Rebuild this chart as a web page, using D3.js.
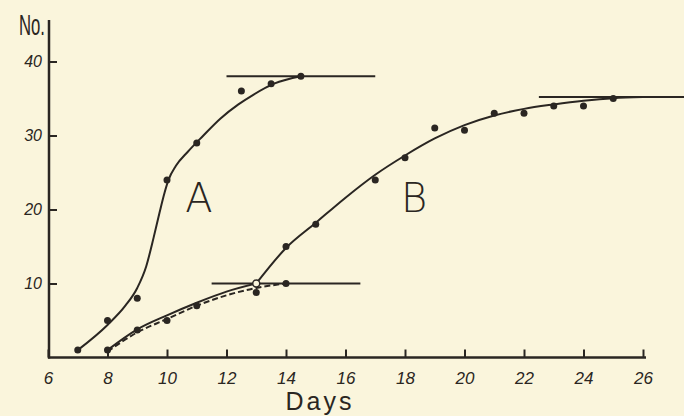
<!DOCTYPE html>
<html>
<head>
<meta charset="utf-8">
<script src="https://cdn.jsdelivr.net/npm/d3@7"></script>
<style>
  body { margin: 0; background: #faf5dc; }
  svg { display: block; }
  .tick text { font-family: "Liberation Sans", sans-serif; font-style: italic; fill: #2a2622; }
</style>
</head>
<body>
<div id="chart"></div>
<script>
// axis ticks
var xTicks = [6, 8, 10, 12, 14, 16, 18, 20, 22, 24, 26];
var yTicks = [10, 20, 30, 40];

// observed points, culture A
var aDays = [7, 8, 9, 10, 11, 12.5, 13.5, 14.5];
var aCount = [1, 5, 8, 24, 29, 36, 37, 38];

// observed points, culture B
var bDays = [8, 9, 10, 11, 13, 14, 14, 15, 17, 18, 19, 20, 21, 22, 23, 24, 25];
var bCount = [1, 3.7, 5, 7, 8.8, 10, 15, 18, 24, 27, 31, 30.7, 33, 33, 34, 34, 35];

// open circle where the two B curves meet
var jDays = [13];
var jCount = [10];

// hand drawn curve through A
var aFitX = [7, 8, 8.6, 9, 9.3, 9.55, 9.75, 9.92, 10.05, 10.3, 10.7, 11.2, 11.8, 12.4, 12.9, 13.6, 14.5];
var aFitY = [1, 4.4, 7, 9.4, 12.3, 16.2, 19.6, 22.3, 24, 25.9, 27.8, 29.9, 32.3, 34.2, 35.5, 37, 38];

// B, early solid curve
var bLowX = [8, 9, 10, 11, 12, 13];
var bLowY = [1, 3.8, 5.7, 7.4, 8.9, 10];

// B, early dashed curve
var bDashX = [8, 9, 10, 11, 12, 13, 14];
var bDashY = [0.8, 3.4, 5.2, 7, 8.4, 9.4, 10];

// B, later curve
var bUpX = [13, 14, 15, 16, 17, 18, 19, 20, 21, 22, 23, 24, 25, 26];
var bUpY = [10, 14.8, 18.2, 21.6, 24.7, 27.3, 29.6, 31.4, 32.7, 33.6, 34.2, 34.7, 35.05, 35.2];

// horizontal plateau lines
var flatFrom = [12, 11.5, 22.5];
var flatTo = [17, 16.5, 27.4];
var flatAt = [38, 10, 35.2];

var width = 684;
var height = 416;
var ink = "#2a2622";

var svg = d3
  .select("#chart")
  .append("svg")
  .attr("width", width)
  .attr("height", height);

//scales
var xScale = d3.scaleLinear().domain([6, 26]).range([48, 643]);
var yScale = d3.scaleLinear().domain([0, 40]).range([357.5, 61.5]);

//x axis, ticks pointing up into the plot
var xAxis = d3.axisBottom(xScale)
  .tickValues(xTicks)
  .tickSizeInner(-8)
  .tickSizeOuter(0)
  .tickPadding(18);

svg.append("g")
  .attr("class", "xAxis")
  .attr("transform", "translate(0,357.5)")
  .call(xAxis)
  .call(function(g) {
    g.select(".domain").attr("stroke", ink).attr("stroke-width", 2.5).attr("d", "M48,0H646");
    g.selectAll(".tick line").attr("stroke", ink).attr("stroke-width", 2);
    g.selectAll(".tick text").attr("font-size", 17).attr("dy", "0.5em");
  });

//y axis, ticks pointing right
var yAxis = d3.axisLeft(yScale)
  .tickValues(yTicks)
  .tickSizeInner(-8)
  .tickSizeOuter(0)
  .tickPadding(7);

svg.append("g")
  .attr("class", "yAxis")
  .attr("transform", "translate(49,0)")
  .call(yAxis)
  .call(function(g) {
    g.select(".domain").attr("stroke", ink).attr("stroke-width", 2.5).attr("d", "M0,20V358.5");
    g.selectAll(".tick line").attr("stroke", ink).attr("stroke-width", 2);
    g.selectAll(".tick text").attr("font-size", 16);
  });

//axis titles
svg.append("text")
  .attr("x", 19)
  .attr("y", 35)
  .attr("font-family", "Liberation Sans Narrow, Liberation Sans, sans-serif")
  .attr("font-size", 29)
  .attr("textLength", 26)
  .attr("lengthAdjust", "spacingAndGlyphs")
  .attr("fill", ink)
  .text("No.");

svg.append("text")
  .attr("x", 320)
  .attr("y", 410)
  .attr("text-anchor", "middle")
  .attr("font-family", "Liberation Sans, sans-serif")
  .attr("font-size", 25)
  .attr("letter-spacing", 3)
  .attr("fill", ink)
  .text("Days");

//curve labels
svg.append("text")
  .attr("x", 199)
  .attr("y", 212)
  .attr("text-anchor", "middle")
  .attr("font-family", "DejaVu Sans, sans-serif")
  .attr("font-weight", 200)
  .attr("font-size", 40)
  .attr("fill", ink)
  .text("A");

svg.append("text")
  .attr("x", 414)
  .attr("y", 212)
  .attr("text-anchor", "middle")
  .attr("font-family", "DejaVu Sans, sans-serif")
  .attr("font-weight", 200)
  .attr("font-size", 40)
  .attr("fill", ink)
  .text("B");

//line generator for the drawn curves
var line = d3.line()
  .x(function(d) { return xScale(d[0]); })
  .y(function(d) { return yScale(d[1]); })
  .curve(d3.curveMonotoneX);

function zip(xs, ys) {
  return xs.map(function(x, i) { return [x, ys[i]]; });
}

//plateaus
flatAt.forEach(function(v, i) {
  svg.append("line")
    .attr("x1", xScale(flatFrom[i]))
    .attr("x2", xScale(flatTo[i]))
    .attr("y1", yScale(v))
    .attr("y2", yScale(v))
    .attr("stroke", ink)
    .attr("stroke-width", 2);
});

svg.append("path")
  .datum(zip(aFitX, aFitY))
  .attr("d", line)
  .attr("fill", "none")
  .attr("stroke", ink)
  .attr("stroke-width", 2);

svg.append("path")
  .datum(zip(bLowX, bLowY))
  .attr("d", line)
  .attr("fill", "none")
  .attr("stroke", ink)
  .attr("stroke-width", 2);

svg.append("path")
  .datum(zip(bDashX, bDashY))
  .attr("d", line)
  .attr("fill", "none")
  .attr("stroke", ink)
  .attr("stroke-width", 2)
  .attr("stroke-dasharray", "6,3");

svg.append("path")
  .datum(zip(bUpX, bUpY))
  .attr("d", line)
  .attr("fill", "none")
  .attr("stroke", ink)
  .attr("stroke-width", 2);

//dots
svg.selectAll(".dotA")
  .data(zip(aDays, aCount))
  .enter()
  .append("circle")
  .attr("class", "dotA")
  .attr("cx", function(d) { return xScale(d[0]); })
  .attr("cy", function(d) { return yScale(d[1]); })
  .attr("r", 3.5)
  .attr("fill", ink);

svg.selectAll(".dotB")
  .data(zip(bDays, bCount))
  .enter()
  .append("circle")
  .attr("class", "dotB")
  .attr("cx", function(d) { return xScale(d[0]); })
  .attr("cy", function(d) { return yScale(d[1]); })
  .attr("r", 3.5)
  .attr("fill", ink);

svg.selectAll(".dotJ")
  .data(zip(jDays, jCount))
  .enter()
  .append("circle")
  .attr("class", "dotJ")
  .attr("cx", function(d) { return xScale(d[0]); })
  .attr("cy", function(d) { return yScale(d[1]); })
  .attr("r", 3.5)
  .attr("fill", "#faf5dc")
  .attr("stroke", ink)
  .attr("stroke-width", 1.5);
</script>
</body>
</html>
